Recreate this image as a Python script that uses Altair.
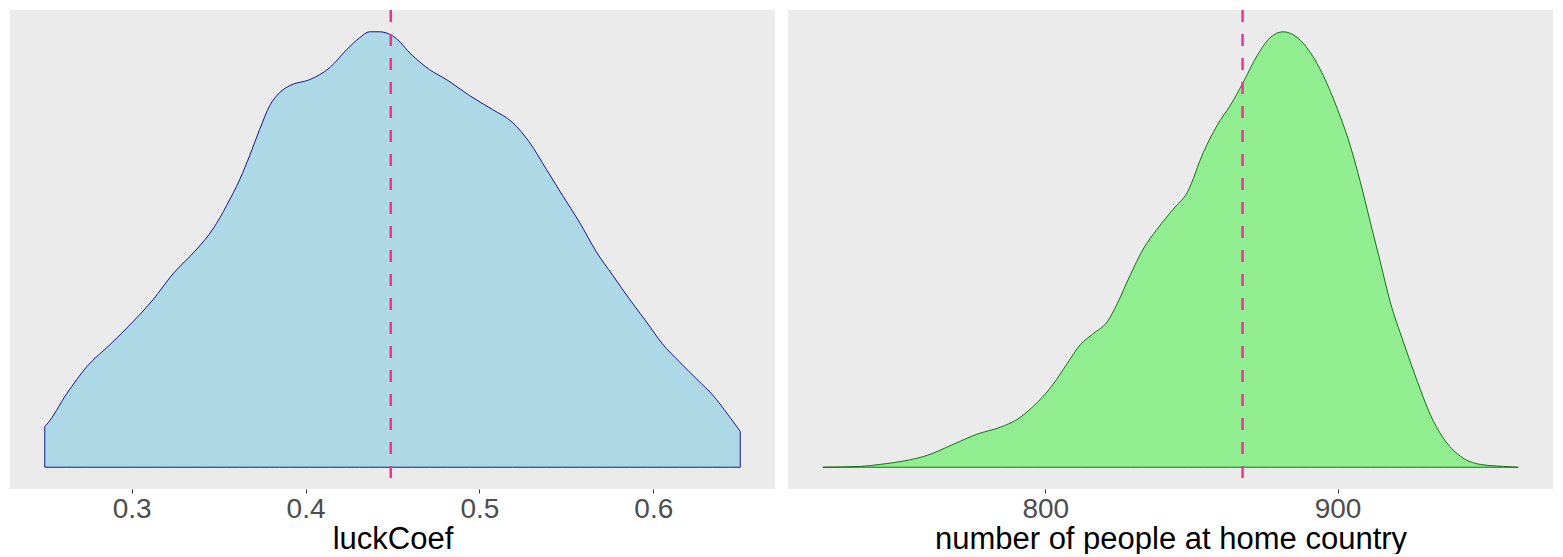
import altair as alt
import pandas as pd

# --- data ---
luck_x = [0.2500, 0.2506, 0.2627, 0.2742, 0.2875, 0.3007, 0.3122, 0.3237, 0.3375, 0.3467,
          0.3547, 0.3622, 0.3679, 0.3736, 0.3794, 0.3851, 0.3909, 0.4024, 0.4139, 0.4236,
          0.4311, 0.4368, 0.4426, 0.4500, 0.4616, 0.4713, 0.4811, 0.4943, 0.5075, 0.5190,
          0.5288, 0.5385, 0.5477, 0.5575, 0.5673, 0.5765, 0.5862, 0.5960, 0.6052, 0.6149,
          0.6264, 0.6339, 0.6437, 0.6500]
luck_density = [0.41, 0.42, 0.74, 1.01, 1.23, 1.46, 1.68, 1.94, 2.19, 2.39,
                2.63, 2.89, 3.13, 3.39, 3.63, 3.76, 3.83, 3.89, 4.01, 4.19,
                4.31, 4.37, 4.37, 4.33, 4.13, 3.99, 3.89, 3.73, 3.59, 3.46,
                3.26, 2.99, 2.73, 2.46, 2.16, 1.93, 1.69, 1.46, 1.24, 1.06,
                0.86, 0.73, 0.51, 0.36]
luck_mean = [0.449]

home_x = [723.9, 736.7, 743.6, 751.4, 759.6, 768.5, 776.7, 784.6, 790.4, 795.9,
          802.7, 807.5, 812.0, 816.4, 821.2, 824.6, 829.1, 833.5, 838.3, 843.8,
          848.6, 854.1, 858.8, 863.3, 867.7, 872.5, 877.0, 881.4, 886.2, 890.7,
          895.1, 900.0, 904.3, 907.8, 911.2, 914.6, 918.0, 922.5, 927.3, 931.7,
          936.2, 942.0, 948.8, 956.7, 961.8]
home_density = [0.00000, 0.00002, 0.00007, 0.00015, 0.00029, 0.00056, 0.00081, 0.00098, 0.00117, 0.00149,
                0.00203, 0.00254, 0.00300, 0.00327, 0.00356, 0.00400, 0.00471, 0.00534, 0.00583, 0.00632,
                0.00673, 0.00771, 0.00837, 0.00886, 0.00942, 0.01008, 0.01052, 0.01066, 0.01052, 0.01015,
                0.00959, 0.00876, 0.00788, 0.00698, 0.00600, 0.00503, 0.00405, 0.00307, 0.00210, 0.00129,
                0.00071, 0.00027, 0.00007, 0.00002, 0.00000]
home_mean = [867.5]

luck_ticks = [0.3, 0.4, 0.5, 0.6]
home_ticks = [800, 900]

PANEL_W = 765
PANEL_H = 479
FONT = "Liberation Sans"


def density_panel(xs, ds, mean, ticks, title, fill, stroke, fmt):
    df = pd.DataFrame({"x": xs, "density": ds})
    mdf = pd.DataFrame({"m": mean})
    xmin, xmax = min(xs), max(xs)
    pad = (xmax - xmin) * 0.05
    ymax = max(ds)
    xscale = alt.Scale(domain=[xmin - pad, xmax + pad], nice=False, zero=False)
    yscale = alt.Scale(domain=[-0.05 * ymax, 1.05 * ymax], nice=False, zero=False)
    xaxis = alt.Axis(values=ticks, format=fmt, title=title, grid=False, domain=False,
                     tickColor="#333333", tickSize=4, tickWidth=1,
                     labelFont=FONT, labelFontSize=28, labelColor="#4D4D4D", labelPadding=2,
                     titleFont=FONT, titleFontSize=31, titleColor="#000000",
                     titleFontWeight="normal", titlePadding=1)
    area = alt.Chart(df).mark_area(fill=fill, stroke=stroke, strokeWidth=0.9,
                                   interpolate="monotone").encode(
        x=alt.X("x:Q", scale=xscale, axis=xaxis),
        y=alt.Y("density:Q", scale=yscale, axis=None),
    )
    rule = alt.Chart(mdf).mark_rule(color="#F0338F", strokeWidth=2.5,
                                    strokeDash=[12, 12]).encode(
        x=alt.X("m:Q", scale=xscale),
    )
    return alt.layer(area, rule).properties(width=PANEL_W, height=PANEL_H)


left = density_panel(luck_x, luck_density, luck_mean, luck_ticks, "luckCoef",
                     "#ADD8E6", "#000080", ".1f")
right = density_panel(home_x, home_density, home_mean, home_ticks,
                      "number of people at home country", "#90EE90", "#006400", "d")

chart = alt.hconcat(left, right, spacing=13).properties(
    padding={"left": 2, "top": 0, "right": 0, "bottom": 0},
    background="white",
).configure_view(fill="#EBEBEB", stroke=None)

chart.save("out.html", embed_options={"renderer": "svg", "actions": False})
